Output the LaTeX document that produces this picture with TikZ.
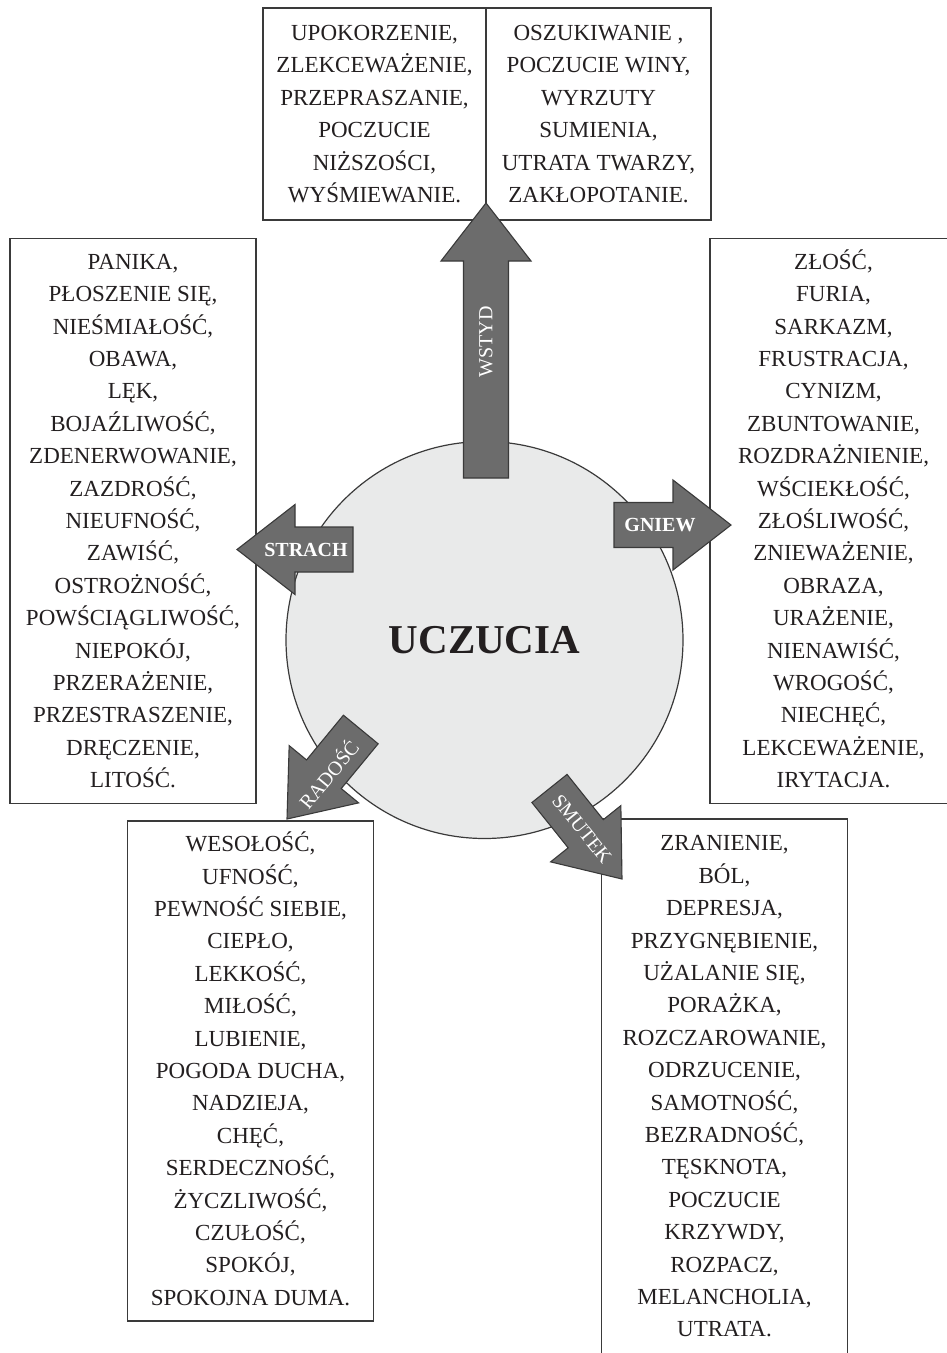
\documentclass[tikz,border=0pt]{standalone}
\usepackage{fontspec}
\setmainfont{Liberation Serif}
\definecolor{txtcol}{HTML}{231F20}
\definecolor{linecol}{HTML}{3A3A3A}
\definecolor{arrfill}{HTML}{6C6C6C}
\definecolor{circfill}{HTML}{E9EAEA}
\tikzset{
  listbox/.style={draw=linecol, line width=1.3pt, fill=white, inner sep=0pt,
    align=center, text=txtcol, font=\fontsize{23}{32.4}\selectfont},
  fatarrow/.style={draw=linecol, line width=1.1pt, fill=arrfill, line join=miter},
  arrlabel/.style={text=white, inner sep=0pt, font=\fontsize{20}{20}\selectfont},
  arrlabelb/.style={text=white, inner sep=0pt, font=\bfseries\fontsize{20}{20}\selectfont},
}
\begin{document}
\begin{tikzpicture}[x=1pt, y=-1pt]
\useasboundingbox (0,0) rectangle (947,1353);
\clip (0,0) rectangle (947,1353);

% boxes
\node[listbox, minimum width=223pt, minimum height=212pt] (wstydL) at (374.5,114)
  {UPOKORZENIE,\\ZLEKCEWAŻENIE,\\PRZEPRASZANIE,\\POCZUCIE\\NIŻSZOŚCI,\\WYŚMIEWANIE.};
\node[listbox, minimum width=225pt, minimum height=212pt] (wstydR) at (598.5,114)
  {OSZUKIWANIE ,\\POCZUCIE WINY,\\WYRZUTY\\SUMIENIA,\\UTRATA TWARZY,\\ZAKŁOPOTANIE.};
\node[listbox, minimum width=246pt, minimum height=565pt] (strachbox) at (133,521)
  {PANIKA,\\PŁOSZENIE SIĘ,\\NIEŚMIAŁOŚĆ,\\OBAWA,\\LĘK,\\BOJAŹLIWOŚĆ,\\ZDENERWOWANIE,\\ZAZDROŚĆ,\\NIEUFNOŚĆ,\\ZAWIŚĆ,\\OSTROŻNOŚĆ,\\POWŚCIĄGLIWOŚĆ,\\NIEPOKÓJ,\\PRZERAŻENIE,\\PRZESTRASZENIE,\\DRĘCZENIE,\\LITOŚĆ.};
\node[listbox, minimum width=247pt, minimum height=565pt] (gniewbox) at (833.5,521)
  {\smash{ZŁOŚĆ,}\vphantom{A}\\FURIA,\\SARKAZM,\\FRUSTRACJA,\\CYNIZM,\\ZBUNTOWANIE,\\ROZDRAŻNIENIE,\\WŚCIEKŁOŚĆ,\\ZŁOŚLIWOŚĆ,\\ZNIEWAŻENIE,\\OBRAZA,\\URAŻENIE,\\NIENAWIŚĆ,\\WROGOŚĆ,\\NIECHĘĆ,\\LEKCEWAŻENIE,\\IRYTACJA.};
\node[listbox, minimum width=246pt, minimum height=500pt] (radoscbox) at (250.5,1071)
  {\smash{WESOŁOŚĆ,}\vphantom{A}\\UFNOŚĆ,\\PEWNOŚĆ SIEBIE,\\CIEPŁO,\\LEKKOŚĆ,\\MIŁOŚĆ,\\LUBIENIE,\\POGODA DUCHA,\\NADZIEJA,\\CHĘĆ,\\SERDECZNOŚĆ,\\ŻYCZLIWOŚĆ,\\CZUŁOŚĆ,\\SPOKÓJ,\\SPOKOJNA DUMA.};
\node[listbox, minimum width=246pt, minimum height=535pt] (smutekbox) at (724.5,1086.5)
  {ZRANIENIE,\\BÓL,\\DEPRESJA,\\PRZYGNĘBIENIE,\\UŻALANIE SIĘ,\\PORAŻKA,\\ROZCZAROWANIE,\\ODRZUCENIE,\\SAMOTNOŚĆ,\\BEZRADNOŚĆ,\\TĘSKNOTA,\\POCZUCIE\\KRZYWDY,\\ROZPACZ,\\MELANCHOLIA,\\UTRATA.};

% central circle
\node[circle, draw=linecol, line width=1.2pt, fill=circfill, minimum size=397pt,
      inner sep=0pt, text=txtcol, font=\bfseries\fontsize{41}{41}\selectfont]
      (uczucia) at (484.5,640) {UCZUCIA};

% arrows
\draw[fatarrow] (463.5,478) -- (463.5,261) -- (441,261) -- (486,203) -- (531,261)
  -- (508.5,261) -- (508.5,478) -- cycle;
\node[arrlabel, rotate=90] (wstyd) at (486,342) {WSTYD};

\draw[fatarrow] (353,527) -- (295,527) -- (295,504.5) -- (237,549.5) -- (295,594.5)
  -- (295,572) -- (353,572) -- cycle;
\node[arrlabelb] (strach) at (306,549.5) {STRACH};

\draw[fatarrow] (614,502.5) -- (673,502.5) -- (673,480) -- (731,525) -- (673,570)
  -- (673,547.5) -- (614,547.5) -- cycle;
\node[arrlabelb] (gniew) at (660,525) {GNIEW};

\begin{scope}[shift={(287,819)}, rotate=230.5]
\draw[fatarrow] (-116,-22.5) -- (-58,-22.5) -- (-58,-45) -- (0,0) -- (-58,45)
  -- (-58,22.5) -- (-116,22.5) -- cycle;
\end{scope}
\node[arrlabel, rotate=50.5] (radosc) at (328,774) {RADOŚĆ};

\begin{scope}[shift={(622,879)}, rotate=-51.3]
\draw[fatarrow] (-116,-22.5) -- (-58,-22.5) -- (-58,-45) -- (0,0) -- (-58,45)
  -- (-58,22.5) -- (-116,22.5) -- cycle;
\end{scope}
\node[arrlabel, rotate=-51.3] (smutek) at (582,829) {SMUTEK};
\end{tikzpicture}
\end{document}
